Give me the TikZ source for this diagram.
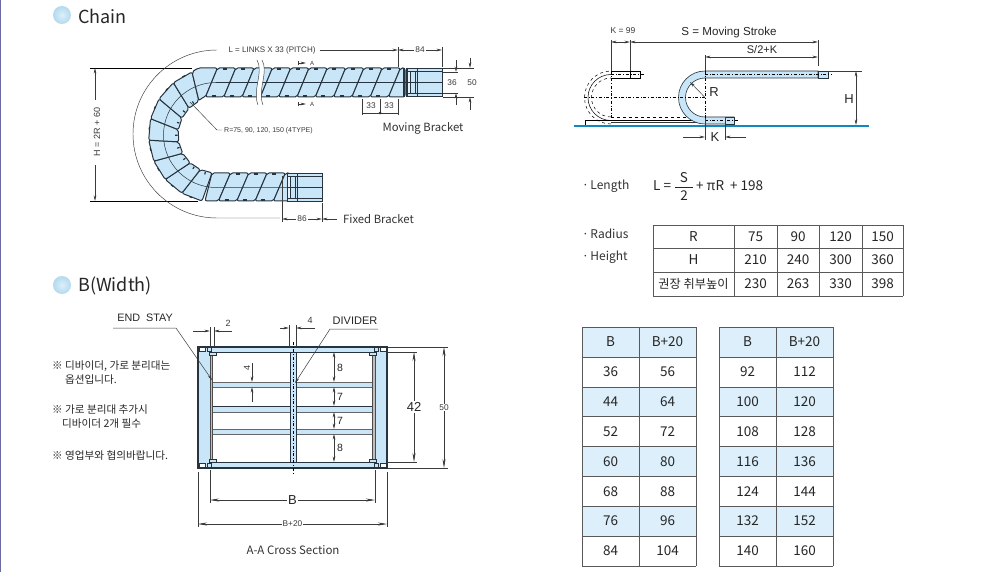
\documentclass[tikz,border=0pt]{standalone}
\usepackage{fontspec}
\setmainfont{Noto Sans CJK KR}
\newfontfamily\labelfont{Liberation Sans}
\usetikzlibrary{arrows.meta}
\tikzset{>={Stealth[length=5.5pt,width=2.6pt]}}
\definecolor{chainblue}{HTML}{C9E6F8}
\definecolor{chainink}{HTML}{27343F}
\definecolor{headblue}{HTML}{DCEFFA}
\definecolor{baseblue}{HTML}{1289BE}
\definecolor{dimgray}{HTML}{3A3A3A}
\definecolor{edgepurple}{HTML}{6C6AA0}
\tikzset{
  dim/.style={draw=dimgray,line width=.5pt},
  longdim/.style={draw=dimgray,line width=.5pt,>={Stealth[length=9pt,width=3pt]}},
  arm/.style={draw=dimgray,line width=.45pt},
  link/.style={draw=chainink,line width=1pt,fill=chainblue,line join=round,rounded corners=2pt},
  chainline/.style={draw=chainink,line width=1pt},
  tiny/.style={font=\labelfont\fontsize{8.3}{9}\selectfont,text=dimgray,inner sep=1pt},
  dimtext/.style={font=\labelfont\fontsize{11.6}{13}\selectfont,text=black!85,inner sep=1pt},
  bigdim/.style={font=\labelfont\fontsize{13}{15}\selectfont,text=black!85,inner sep=1pt},
  smalldim/.style={font=\labelfont\fontsize{10.5}{12}\selectfont,text=black!85,inner sep=1pt},
  title/.style={font=\fontsize{18}{21}\selectfont,text=black!85,anchor=west,inner sep=0pt},
  tag/.style={font=\fontsize{11.3}{14}\selectfont,text=black!80,inner sep=0pt},
  listname/.style={font=\fontsize{12}{15}\selectfont,text=black!80,anchor=west,inner sep=0pt},
  note/.style={font=\fontsize{10.6}{12}\selectfont,text=black!85,anchor=west,inner sep=0pt},
  cell/.style={font=\fontsize{13.5}{16}\selectfont,text=black!85,inner sep=0pt},
  tablerule/.style={draw=black!65,line width=.9pt},
  headball/.style={inner color=headblue,outer color=chainblue!70!baseblue!70},
}
\begin{document}
\begin{tikzpicture}[x=1pt,y=-1pt]
  \useasboundingbox (0,0) rectangle (982,572);
  \fill[white] (0,0) rectangle (982,572);
  \fill[edgepurple] (0,0) rectangle (1.3,572);
  % headings
  \shade[headball] (62,15) circle [radius=9];
  \node[title] (chainhead) at (78,16) {Chain};
  \shade[headball] (62,285) circle [radius=9];
  \node[title] (widthhead) at (78,286) {B(Width)};

  % chain, bend
  \begin{scope}[shift={(216,135)}]
    \foreach \i in {0,...,7} {
      \pgfmathsetmacro\a{96+\i*18.4}
      \filldraw[link] (\a:38) -- (\a+6:67.5) -- (\a+24.4:67.5) -- (\a+18.4:38) -- cycle;
      \draw[chainline,line width=1.2pt] (\a+15:67) -- ++(\a+105:3);
      \draw[chainline,line width=1.2pt] (\a+10:38.5) -- (\a+10:41);
    }
  \end{scope}

  % chain, straight runs
  \filldraw[link] (192,72) -- (198,68) -- (217.5,68) -- (205.5,97) -- (201,98) -- (199,101) -- cycle;
  \foreach \x in {217.5,235.8,254.1,272.4,290.7,309,327.3,345.6,363.9,382.2} {
    \filldraw[link] (\x,68) -- (\x+18.3,68) -- (\x+6.3,97) -- (\x-12,97) -- cycle;
    \draw[chainline,line width=1.4pt] (\x+5,69) -- (\x+9,69);
    \draw[chainline,line width=1.4pt] (\x-6,96) -- (\x-2,96);
  }
  \filldraw[link] (400.5,68) -- (405,68) -- (405,97) -- (388.5,97) -- cycle;
  \filldraw[link] (212,173) -- (230.5,173) -- (218.5,201) -- (205,201) -- cycle;
  \foreach \x in {230.5,248.8,267.1} {
    \filldraw[link] (\x,173) -- (\x+18.3,173) -- (\x+6.3,201) -- (\x-12,201) -- cycle;
    \draw[chainline,line width=1.4pt] (\x+5,174) -- (\x+9,174);
    \draw[chainline,line width=1.4pt] (\x-6,200) -- (\x-2,200);
  }
  \filldraw[link] (285.4,173) -- (290,173) -- (290,201) -- (273.4,201) -- cycle;
  \draw[dim,chainink] (216,82.5) arc[start angle=270,end angle=90,radius=52.5] -- (290,187.5);
  \draw[dim,chainink] (216,82.5) -- (408,82.5);

  % break in the long run
  \fill[white] (257,60) .. controls (264,72) and (252,90) .. (258,105) -- (263,105)
    .. controls (257,90) and (269,72) .. (262,60) -- cycle;
  \draw[arm] (257,60) .. controls (264,72) and (252,90) .. (258,105);
  \draw[arm] (262,60) .. controls (269,72) and (257,90) .. (263,105);

  % brackets
  \foreach \bx/\by in {407/0,287/105} {
    \filldraw[draw=chainink,line width=1pt,fill=chainblue] (\bx,68.5+\by) rectangle (\bx+35,97+\by);
    \filldraw[draw=chainink,line width=1pt,fill=chainblue!50] (\bx,72+\by) rectangle (\bx+3,93.5+\by);
    \draw[chainline] (\bx+3,72+\by) -- (\bx+35,72+\by);
    \draw[chainline] (\bx+3,93.5+\by) -- (\bx+35,93.5+\by);
    \draw[chainline] (\bx+10,68.5+\by) -- (\bx+10,97+\by);
    \draw[chainline,line width=.6pt] (\bx+8,72+\by) -- (\bx+8,93.5+\by);
    \draw[dim,chainink] (\bx,82.5+\by) -- (\bx+35,82.5+\by);
  }
  \foreach \x in {403,404.5,406} { \draw[chainline,line width=.6pt] (\x,68) -- (\x,97); }

  % chain dimensions
  \coordinate (topleft) at (90,68);
  \coordinate (botleft) at (90,201);
  \draw[draw=black,line width=.7pt] (topleft) -- (192,68);
  \draw[draw=black,line width=.7pt] (botleft) -- (198,201);
  \draw[dim,->] (95,100) -- (95,68);
  \draw[dim,->] (95,165) -- (95,201);
  \node[tiny,rotate=90,font=\labelfont\fontsize{9}{10}\selectfont] (hlabel) at (97,132) {H = 2R + 60};
  \draw[arm] (217,50) arc[start angle=270,end angle=90,radius=84] -- (280,218);
  \node[tiny,font=\labelfont\fontsize{8}{9}\selectfont] (llabel) at (272,50) {L = LINKS X 33 (PITCH)};
  \draw[dim,->] (llabel.east) ++(3,0) -- (398,50);
  \draw[arm] (398,47) -- (398,67);
  \draw[arm] (442,47) -- (442,67);
  \draw[dim,<->] (398,50) -- (442,50) node[midway,tiny,fill=white] (len84) {84};
  \draw[arm] (282,176) -- (282,222);
  \draw[arm] (322,203) -- (322,222);
  \draw[dim,<->] (282,219) -- (322,219) node[midway,tiny,fill=white] (len86) {86};
  \node[tag,anchor=west] (fixedb) at (343,219) {Fixed Bracket};
  \draw[dim,->] (337,219) -- (322,219);
  \node[tag] (movingb) at (423,128) {Moving Bracket};
  % section marks
  \draw[arm,|->] (298,63) -- (306,63);
  \node[tiny,font=\labelfont\fontsize{6}{7}\selectfont] (secup) at (312,63) {A};
  \draw[arm,|->] (298,104) -- (306,104);
  \node[tiny,font=\labelfont\fontsize{6}{7}\selectfont] (secdn) at (312,104) {A};
  % pitch
  \draw[arm] (362,99) -- (362,115);
  \draw[arm] (398,99) -- (398,115);
  \draw[arm] (362,113) -- (398,113);
  \draw[arm] (380,99) -- (380,113);
  \fill[chainink] (380,113) circle [radius=1.5];
  \node[tiny] (pone) at (371,106) {33};
  \node[tiny] (ptwo) at (389,106) {33};
  % bracket heights
  \draw[arm] (443,72) -- (458,72);
  \draw[arm] (443,93) -- (458,93);
  \draw[arm] (443,68) -- (474,68);
  \draw[arm] (443,97) -- (474,97);
  \draw[dim,->] (456,60) -- (456,72);
  \draw[dim,->] (456,105) -- (456,93);
  \draw[dim,->] (470,58) -- (470,68);
  \draw[dim,->] (470,110) -- (470,97);
  \node[tiny] (w36) at (452,83) {36};
  \node[tiny] (w50) at (472,83) {50};
  \draw[arm] (190,102) -- (217,130) -- (222,130);
  \node[tiny,anchor=west,font=\labelfont\fontsize{7}{9}\selectfont] (rlabel) at (223,131) {R=75, 90, 120, 150 (4TYPE)};

  % travel sketch
  \draw[draw=black,line width=.6pt,fill=white] (585,120) rectangle (734,125);
  \draw[line width=.6pt,dashed] (611,117) -- (705,117);
  \draw[line width=.9pt,black!80] (611,122) -- (705,122);
  \begin{scope}[line width=.5pt]
    \draw[dashed] (611,124) arc[start angle=90,end angle=270,radius=26.5];
    \draw (611,120.5) arc[start angle=90,end angle=270,radius=23];
    \draw[dashed] (611,117) arc[start angle=90,end angle=270,radius=19.5];
    \draw (611,71) -- (640,71) -- (640,78) -- (611,78);
    \draw (630,71) -- (630,78);
  \end{scope}
  \draw[draw=chainink,line width=.6pt,fill=chainblue]
    (818,71) -- (705,71) arc[start angle=270,end angle=90,radius=26.5] -- (734,124) -- (734,117) -- (705,117)
    arc[start angle=90,end angle=270,radius=19.5] -- (818,78) -- cycle;
  \filldraw[draw=chainink,line width=.6pt,fill=chainblue] (818,71) rectangle (828,78);
  \filldraw[draw=chainink,line width=.6pt,fill=chainblue] (725,117) rectangle (734,124);
  \draw[line width=.4pt,dash dot] (705,74.5) -- (832,74.5);
  \draw[line width=.4pt,dash dot] (705,120.5) -- (738,120.5);
  \draw[line width=.4pt,dash dot] (584,97.5) -- (705,97.5);
  \draw[line width=.4pt,dash dot] (611,74.5) -- (645,74.5);
  \draw[draw=baseblue,line width=2.4pt] (574,126) -- (869,126);
  % travel dimensions
  \coordinate (kone) at (611,42);
  \coordinate (ktwo) at (630,42);
  \coordinate (send) at (818,42);
  \coordinate (smid) at (705,57);
  \draw[arm] (611,40) -- (611,71);
  \draw[line width=.4pt,dash dot] (611,71) -- (611,122);
  \draw[arm] (630,40) -- (630,71);
  \draw[arm] (818,40) -- (818,66);
  \draw[arm] (705,55) -- (705,71);
  \draw[line width=.4pt,dash dot] (705,71) -- (705,118);
  \draw[arm] (705,118) -- (705,140);
  \draw[arm] (725,117) -- (725,140);
  \draw[dim,<->] (kone) -- (ktwo);
  \draw[dim,<->] (ktwo) -- (send);
  \draw[dim,<->] (smid) -- (818,57);
  \node[tiny,font=\labelfont\fontsize{8.5}{10}\selectfont] (kval) at (623,31) {K = 99};
  \node[dimtext] (strokeval) at (729,33) {S = Moving Stroke};
  \node[dimtext,font=\labelfont\fontsize{11}{13}\selectfont] (halfval) at (762,50) {S/2+K};
  \draw[arm] (828,71) -- (862,71);
  \draw[dim,<->] (856,71) -- (856,125);
  \node[bigdim] (hval) at (849,99) {H};
  \node[bigdim] (rval) at (714,92) {R};
  \draw[dim,->] (705,97.5) -- (690,82);
  \node[bigdim] (kmark) at (715,137) {K};
  \draw[dim,->] (683,137) -- (705,137);
  \draw[dim,->] (746,137) -- (725,137);

  % formula
  \node[listname] (lenname) at (582,186) {·\hspace{1.5pt}Length};
  \node[cell,anchor=west] (leneq) at (653,186) {L =};
  \node[cell] (fracs) at (684,178) {S};
  \node[cell] (fracb) at (684,196) {2};
  \draw[black!85,line width=.6pt] (675,187) -- (693,187);
  \node[cell,anchor=west] (lenrest) at (696,186) {+ πR\hspace{3pt} + 198};
  \node[listname] (radname) at (582,234) {·\hspace{1.5pt}Radius};
  \node[listname] (hgtname) at (582,257) {·\hspace{1.5pt}Height};

  % radius table
  \foreach \yy in {225,248,272,296} { \draw[tablerule] (653,\yy) -- (903,\yy); }
  \foreach \xx in {653,734,777,819,862,903} { \draw[tablerule] (\xx,225) -- (\xx,296); }
  \foreach \rowy/\rname/\va/\vb/\vc/\vd in {236.5/R/75/90/120/150,260/H/210/240/300/360,284/{\fontsize{12.2}{14}\selectfont 권장 취부높이}/230/263/330/398} {
    \node[cell] (rh\va) at (693.5,\rowy) {\rname};
    \node[cell] (ra\va) at (755.5,\rowy) {\va};
    \node[cell] (rb\va) at (798,\rowy) {\vb};
    \node[cell] (rc\va) at (840.5,\rowy) {\vc};
    \node[cell] (rd\va) at (882.5,\rowy) {\vd};
  }

  % width tables
  \foreach \tx in {582,719} {
    \fill[headblue] (\tx,327) rectangle (\tx+114,357);
    \foreach \yy in {387,446.5,506} { \fill[headblue] (\tx,\yy) rectangle (\tx+114,\yy+30); }
    \foreach \yy in {327,357,387,416.5,446.5,476.5,506,536,566} { \draw[tablerule] (\tx,\yy) -- (\tx+114,\yy); }
    \foreach \xx in {0,57,114} { \draw[tablerule] (\tx+\xx,327) -- (\tx+\xx,566); }
    \node[cell] (hb\tx) at (\tx+28.5,342) {B};
    \node[cell] (hs\tx) at (\tx+85.5,342) {B+20};
  }
  \foreach \rowy/\a/\b/\c/\d in {372/36/56/92/112,402/44/64/100/120,431.5/52/72/108/128,461.5/60/80/116/136,491.5/68/88/124/144,521/76/96/132/152,551/84/104/140/160} {
    \node[cell] (la\a) at (610.5,\rowy) {\a};
    \node[cell] (lb\a) at (667.5,\rowy) {\b};
    \node[cell] (lc\a) at (747.5,\rowy) {\c};
    \node[cell] (ld\a) at (804.5,\rowy) {\d};
  }

  % notes
  \node[note] (noteone) at (52,366) {※ 디바이더, 가로 분리대는};
  \node[note] (noteonb) at (65,380) {옵션입니다.};
  \node[note] (notetwo) at (52,410) {※ 가로 분리대 추가시};
  \node[note] (notetwb) at (62,424) {디바이더 2개 필수};
  \node[note] (notethr) at (52,455) {※ 영업부와 협의바랍니다.};

  % cross section
  \filldraw[draw=chainink,line width=1.2pt,fill=chainblue] (198,347) rectangle (387,468);
  \filldraw[draw=chainink,line width=.8pt,fill=white] (210,352) rectangle (375,462);
  \foreach \ya/\yb in {382/387,406/412,429/434} {
    \filldraw[draw=black!60,line width=.6pt,fill=chainblue] (212,\ya) rectangle (373,\yb);
  }
  \draw[draw=chainink,line width=.7pt] (212,406) -- (373,406);
  \filldraw[draw=black!70,line width=.5pt,fill=black!25] (210,352) rectangle (212.5,462);
  \filldraw[draw=black!70,line width=.5pt,fill=black!25] (372.5,352) rectangle (375,462);
  \filldraw[draw=chainink,line width=.8pt,fill=chainblue] (290,352) rectangle (296,462);
  \foreach \cx/\s in {198/1,387/-1} {
    \foreach \cy in {347,463} {
      \filldraw[draw=chainink,line width=.9pt,fill=white] (\cx+\s*1,\cy+.5) rectangle (\cx+\s*7,\cy+4.5);
      \filldraw[draw=chainink,line width=.7pt,fill=chainblue] (\cx+\s*9,\cy+.5) rectangle (\cx+\s*13,\cy+4.5);
    }
    \filldraw[draw=chainink,line width=.4pt,fill=chainblue] (\cx+\s*11,352) rectangle (\cx+\s*18,355);
    \filldraw[draw=chainink,line width=.4pt,fill=chainblue] (\cx+\s*11,459) rectangle (\cx+\s*18,462);
  }
  \draw[line width=.4pt,dash dot] (293,342) -- (293,473);
  % section dimensions
  \coordinate (stayend) at (212,380);
  \coordinate (divend) at (295,383);
  \node[smalldim,font=\labelfont\fontsize{10.8}{12}\selectfont] (stay) at (145,318) {END\ \ STAY};
  \node[smalldim,font=\labelfont\fontsize{11}{12}\selectfont] (divider) at (355,321) {DIVIDER};
  \draw[dim,->] (113,328) -- (176,328) -- (stayend);
  \draw[dim,->] (378,329) -- (330,329) -- (divend);
  \draw[arm] (210,327) -- (210,347);
  \draw[arm] (214,327) -- (214,347);
  \draw[dim,->] (193,331) -- (210,331);
  \draw[dim,->] (232,331) -- (214,331);
  \node[tiny,font=\labelfont\fontsize{9}{10}\selectfont] (wtwo) at (228,323) {2};
  \draw[arm] (289,325) -- (289,347);
  \draw[arm] (296,325) -- (296,347);
  \draw[dim,->] (280,328) -- (289,328);
  \draw[dim,->] (315,328) -- (296,328);
  \node[tiny,font=\labelfont\fontsize{9}{10}\selectfont] (wfour) at (310,320) {4};
  \draw[dim,->] (252,363) -- (252,382);
  \draw[dim,->] (252,402) -- (252,387);
  \node[tiny,rotate=90,font=\labelfont\fontsize{9}{10}\selectfont] (hfour) at (247,368) {4};
  \draw[dim,<->] (334,352) -- (334,382);
  \draw[dim,<->] (334,387) -- (334,406);
  \draw[dim,<->] (334,412) -- (334,429);
  \draw[dim,<->] (334,434) -- (334,462);
  \node[smalldim] (sone) at (340,368) {8};
  \node[smalldim] (stwo) at (340,397) {7};
  \node[smalldim] (sthr) at (340,421) {7};
  \node[smalldim] (sfou) at (340,448) {8};
  \draw[arm] (387,352) -- (417,352);
  \draw[arm] (387,462) -- (417,462);
  \draw[arm] (388,347) -- (448,347);
  \draw[arm] (388,468) -- (448,468);
  \draw[longdim,<->] (414,352) -- (414,462) node[pos=.5,bigdim,fill=white] (hfortytwo) {42};
  \draw[longdim,<->] (444,347) -- (444,468) node[pos=.5,tiny,fill=white] (hfifty) {50};
  \draw[arm] (210,470) -- (210,503);
  \draw[arm] (375,470) -- (375,503);
  \draw[arm] (198,472) -- (198,527);
  \draw[arm] (387,472) -- (387,527);
  \draw[longdim,<->] (210,500) -- (375,500) node[midway,bigdim,fill=white] (wb) {B};
  \draw[longdim,<->] (198,524) -- (387,524) node[midway,tiny,fill=white] (wbtwenty) {B+20};
  \node[tag,font=\fontsize{11.5}{13}\selectfont] (sectname) at (293,550) {A-A Cross Section};
\end{tikzpicture}
\end{document}
